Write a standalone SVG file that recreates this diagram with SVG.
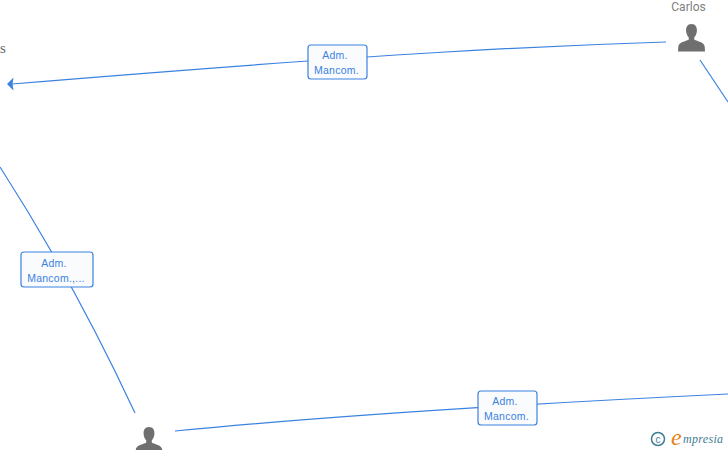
<svg xmlns="http://www.w3.org/2000/svg" width="728" height="450" viewBox="0 0 728 450">
<defs>
<style>
.c{fill:none;stroke:#3b82e0;stroke-width:1.2}
.b{fill:#fafbfd;stroke:#3b82e0;stroke-width:1.2}
.l{font:10.5px "Liberation Sans",Arial,sans-serif;fill:#3b82e0;text-anchor:middle;letter-spacing:.25px}
.p{fill:#6f6f6f}
</style>
<symbol id="person" viewBox="0 0 28 28" overflow="visible">
<path d="M14 0C9.800 0 8.300 3.500 8.600 7C8.800 10 10 12 11.200 13.300L11.200 15.800C8 17.300 1.500 18.200 0.800 22.500L0.500 27.500L27.500 27.500L27.200 22.500C26.500 18.200 20 17.300 16.800 15.800L16.800 13.300C18 12 19.200 10 19.400 7C19.700 3.500 18.200 0 14 0Z"/>
</symbol>
</defs>
<rect width="728" height="450" fill="#fff"/>
<g id="connectors">
<path class="c" d="M666 42C540 46 400 52 12 84"/>
<path fill="#3b82e0" d="M7 84L13.500 77.500L12.500 84L13.500 90.500Z"/>
<path class="c" d="M700 60Q714 81 728 102"/>
<path class="c" d="M0 167Q74 282 135 413"/>
<path class="c" d="M175 431C350 414 540 403 728 394"/>
</g>
<g id="node-carlos">
<text x="688.500" y="11" font-family="Roboto,'Liberation Sans',sans-serif" font-size="12" fill="#808080" text-anchor="middle">Carlos</text>
<use href="#person" class="p" x="677.500" y="24" width="28" height="28"/>
</g>
<g id="node-left">
<text x="3" y="53" font-family="'Liberation Serif',serif" font-size="15" fill="#666" text-anchor="middle">s</text>
</g>
<g id="node-bottom">
<use href="#person" class="p" x="135" y="427" width="28" height="28"/>
</g>
<g id="label-top">
<rect class="b" x="308" y="45" width="59" height="34" rx="3"/>
<text class="l" x="335" y="58.500">Adm.</text>
<text class="l" x="336.500" y="73.500">Mancom.</text>
</g>
<g id="label-left">
<rect class="b" x="21" y="252" width="72" height="35" rx="3"/>
<text class="l" x="54" y="266.500">Adm.</text>
<text class="l" x="56" y="281.500">Mancom.,...</text>
</g>
<g id="label-bottom">
<rect class="b" x="478" y="391" width="59" height="34" rx="3"/>
<text class="l" x="505" y="404.500">Adm.</text>
<text class="l" x="506.500" y="419.500">Mancom.</text>
</g>
<g id="logo">
<circle cx="658" cy="439" r="6.500" fill="none" stroke="#3f7d92" stroke-width="1.500"/>
<text x="658" y="442.500" font-family="'Liberation Sans',sans-serif" font-size="10" fill="#3f7d92" text-anchor="middle">c</text>
<text x="671" y="445" font-family="'Liberation Serif',serif" font-style="italic" font-size="24" fill="#e8831a">e</text>
<text x="683" y="443" font-family="'Liberation Serif',serif" font-style="italic" font-size="12" letter-spacing=".3" fill="#3f7d92">mpresia</text>
</g>
</svg>
